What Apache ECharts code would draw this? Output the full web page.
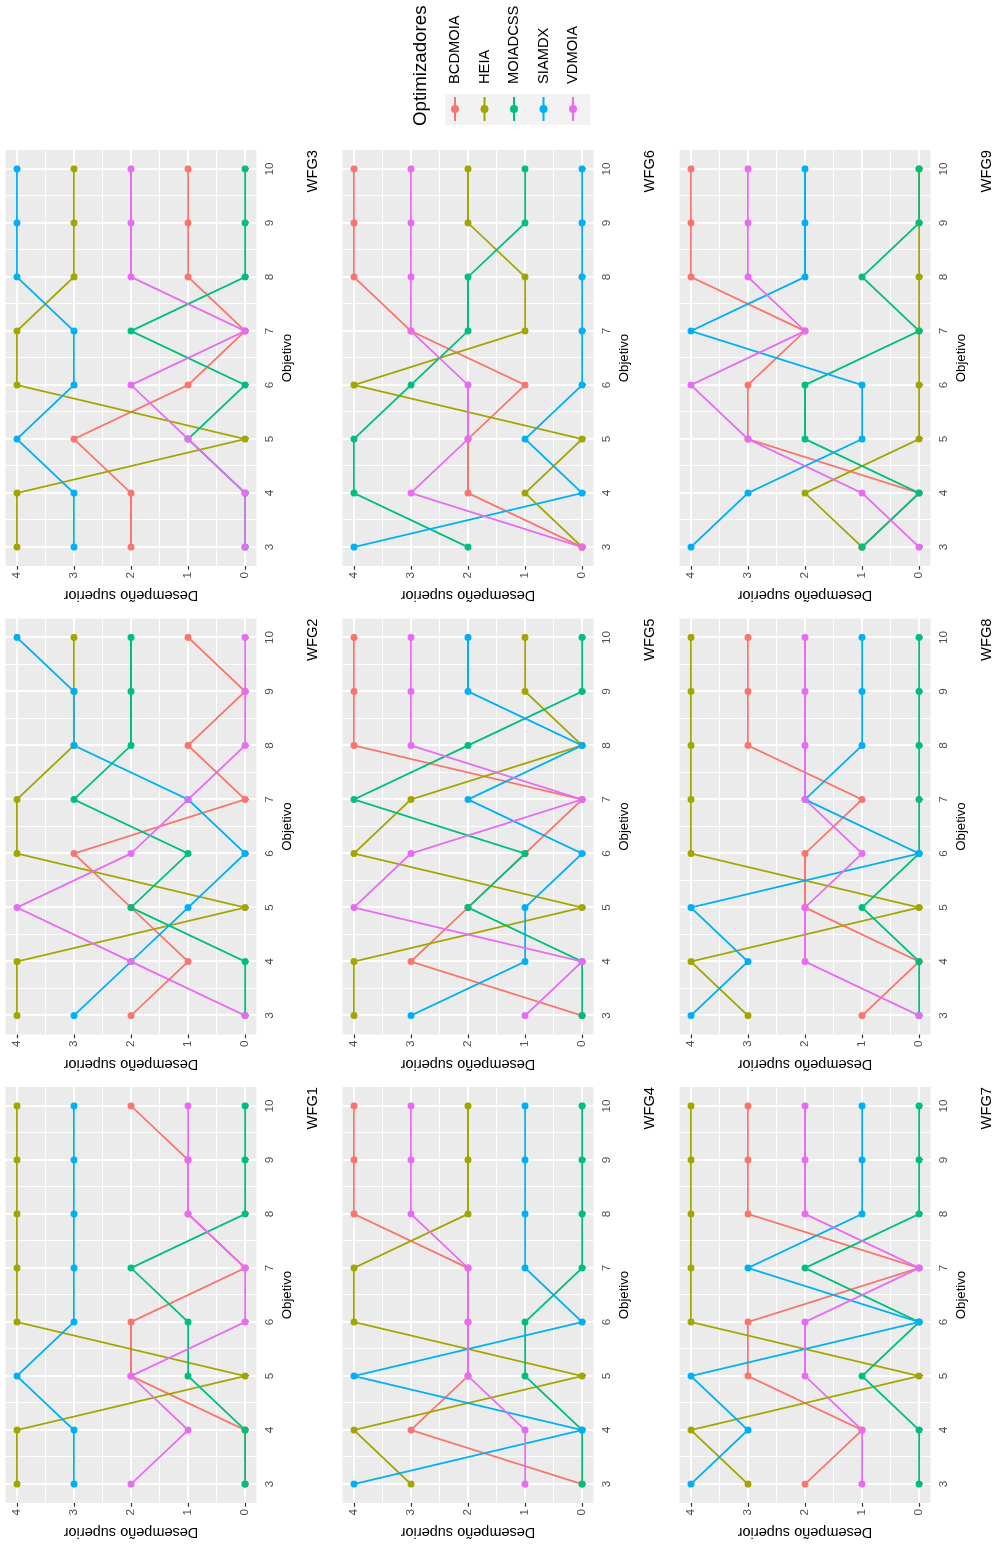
<!DOCTYPE html>
<html><head><meta charset="utf-8">
<script src="https://cdn.jsdelivr.net/npm/echarts@6/dist/echarts.min.js"></script>
<style>
html,body{margin:0;padding:0;background:#fff;overflow:hidden;width:995px;height:1545px;}
#wrap{position:absolute;left:0;top:0;width:995px;height:1545px;overflow:hidden;}
#chart{position:absolute;left:0;top:0;width:1545px;height:995px;transform-origin:0 0;transform:translate(0px,1545px) rotate(-90deg);}
</style></head><body><div id="wrap"><div id="chart"></div></div>
<script>
// ---- data ----
const objectives = [3, 4, 5, 6, 7, 8, 9, 10];
const objectiveMinor = [3.5, 4.5, 5.5, 6.5, 7.5, 8.5, 9.5];
const valueTicks = [0, 1, 2, 3, 4];
const valueMinor = [0.5, 1.5, 2.5, 3.5];
const optimizers = ['BCDMOIA', 'HEIA', 'MOIADCSS', 'SIAMDX', 'VDMOIA'];
const problems = ['WFG1', 'WFG2', 'WFG3', 'WFG4', 'WFG5', 'WFG6', 'WFG7', 'WFG8', 'WFG9'];

// rows follow the order of optimizers; columns follow objectives
const WFG1 = [[0,0,2,2,0,1,1,2],[4,4,0,4,4,4,4,4],[0,0,1,1,2,0,0,0],[3,3,4,3,3,3,3,3],[2,1,2,0,0,1,1,1]];
const WFG2 = [[2,1,2,3,0,1,0,1],[4,4,0,4,4,3,3,3],[0,0,2,1,3,2,2,2],[3,2,1,0,1,3,3,4],[0,2,4,2,1,0,0,0]];
const WFG3 = [[2,2,3,1,0,1,1,1],[4,4,0,4,4,3,3,3],[0,0,1,0,2,0,0,0],[3,3,4,3,3,4,4,4],[0,0,1,2,0,2,2,2]];
const WFG4 = [[0,3,2,2,2,4,4,4],[3,4,0,4,4,2,2,2],[0,0,1,1,0,0,0,0],[4,0,4,0,1,1,1,1],[1,1,2,2,2,3,3,3]];
const WFG5 = [[0,3,2,1,0,4,4,4],[4,4,0,4,3,0,1,1],[0,0,2,1,4,2,0,0],[3,1,1,0,2,0,2,2],[1,0,4,3,0,3,3,3]];
const WFG6 = [[0,2,2,1,3,4,4,4],[0,1,0,4,1,1,2,2],[2,4,4,3,2,2,1,1],[4,0,1,0,0,0,0,0],[0,3,2,2,3,3,3,3]];
const WFG7 = [[2,1,3,3,0,3,3,3],[3,4,0,4,4,4,4,4],[0,0,1,0,2,0,0,0],[4,3,4,0,3,1,1,1],[1,1,2,2,0,2,2,2]];
const WFG8 = [[1,0,2,2,1,3,3,3],[3,4,0,4,4,4,4,4],[0,0,1,0,0,0,0,0],[4,3,4,0,2,1,1,1],[0,2,2,1,2,2,2,2]];
const WFG9 = [[1,0,3,3,2,4,4,4],[1,2,0,0,0,0,0,0],[1,0,2,2,0,1,0,0],[4,3,1,1,4,2,2,2],[0,1,3,4,2,3,3,3]];
const panelValues = [WFG1, WFG2, WFG3, WFG4, WFG5, WFG6, WFG7, WFG8, WFG9];

// ---- style / layout ----
const colors = ['#F8766D', '#A3A500', '#00BF7D', '#00B0F6', '#E76BF3'];
const FONT = '"Liberation Sans", Arial, Helvetica, sans-serif';
const colLeft = [42, 510.5, 979];
const rowTop = [5.5, 342.5, 679.5];
const panelW = 416, panelH = 251;
const CW = 1545;

const chart = echarts.init(document.getElementById('chart'), null, {renderer: 'canvas', width: 1545, height: 995});

const grids = [], xAxes = [], yAxes = [], series = [], titles = [];
problems.forEach((p, i) => {
  const r = Math.floor(i / 3), c = i % 3;
  grids.push({left: colLeft[c], top: rowTop[r], width: panelW, height: panelH,
    show: true, backgroundColor: '#EBEBEB', borderWidth: 0});
  // main x axis
  xAxes.push({type: 'value', gridIndex: i, min: 2.65, max: 10.35, position: 'bottom',
    axisLine: {show: false},
    axisTick: {show: true, length: 3.7, customValues: objectives, lineStyle: {color: '#333333', width: 1.2}},
    axisLabel: {customValues: objectives, color: '#4D4D4D', fontSize: 11.7, fontFamily: FONT, margin: 7},
    splitLine: {show: true, lineStyle: {color: '#FFFFFF', width: 1.9}},
    name: 'Objetivo', nameLocation: 'middle', nameGap: 24,
    nameTextStyle: {color: '#000', fontSize: 13.2, fontFamily: FONT}});
  // minor x grid
  xAxes.push({type: 'value', gridIndex: i, min: 2.65, max: 10.35, position: 'bottom',
    axisLine: {show: false}, axisTick: {show: false, customValues: objectiveMinor},
    axisLabel: {show: false}, splitLine: {show: true, lineStyle: {color: '#FFFFFF', width: 0.95}}});
  // main y axis
  yAxes.push({type: 'value', gridIndex: i, min: -0.2, max: 4.2, position: 'left',
    axisLine: {show: false},
    axisTick: {show: true, length: 3.7, customValues: valueTicks, lineStyle: {color: '#333333', width: 1.2}},
    axisLabel: {customValues: valueTicks, color: '#4D4D4D', fontSize: 11.7, fontFamily: FONT, margin: 6},
    splitLine: {show: true, lineStyle: {color: '#FFFFFF', width: 1.9}},
    name: 'Desempeño superior', nameLocation: 'middle', nameGap: 22,
    nameTextStyle: {color: '#000', fontSize: 14.5, fontFamily: FONT}});
  yAxes.push({type: 'value', gridIndex: i, min: -0.2, max: 4.2, position: 'left',
    axisLine: {show: false}, axisTick: {show: false, customValues: valueMinor},
    axisLabel: {show: false}, splitLine: {show: true, lineStyle: {color: '#FFFFFF', width: 0.95}}});

  titles.push({text: p, right: CW - (colLeft[c] + panelW) , top: rowTop[r] + panelH + 49, padding: 0,
    textStyle: {color: '#000', fontSize: 14.7, fontWeight: 'normal', fontFamily: FONT}});

  const vals = panelValues[i];
  optimizers.forEach((opt, k) => {
    const data = objectives.map((o, j) => [o, vals[k][j]]);
    series.push({type: 'line', name: opt, xAxisIndex: 2 * i, yAxisIndex: 2 * i, data: data,
      symbol: 'none', z: 2, silent: true, animation: false,
      lineStyle: {color: colors[k], width: 1.8}, itemStyle: {color: colors[k]}});
  });
  optimizers.forEach((opt, k) => {
    const data = objectives.map((o, j) => [o, vals[k][j]]);
    series.push({type: 'scatter', name: opt, xAxisIndex: 2 * i, yAxisIndex: 2 * i, data: data,
      symbol: 'circle', symbolSize: 7, z: 3, silent: true, animation: false,
      itemStyle: {color: colors[k], opacity: 1}});
  });
});

titles.push({text: 'Optimizadores', left: 1419, top: 411, padding: 0,
  textStyle: {color: '#000', fontSize: 18.7, fontWeight: 'normal', fontFamily: FONT}});

chart.setOption({
  animation: false,
  backgroundColor: '#FFFFFF',
  title: titles,
  grid: grids,
  xAxis: xAxes,
  yAxis: yAxes,
  legend: {data: optimizers, orient: 'vertical', left: 1423, top: 447.5, padding: 0,
    itemWidth: 24, itemHeight: 10, itemGap: 14.5, selectedMode: false,
    textStyle: {color: '#000', fontSize: 14.7, fontFamily: FONT, lineHeight: 15, padding: [0, 0, 0, 8]}},
  graphic: [{type: 'rect', z: -1, shape: {x: 1420, y: 445, width: 31, height: 145}, style: {fill: '#F2F2F2'}}],
  series: series
});
</script></body></html>
